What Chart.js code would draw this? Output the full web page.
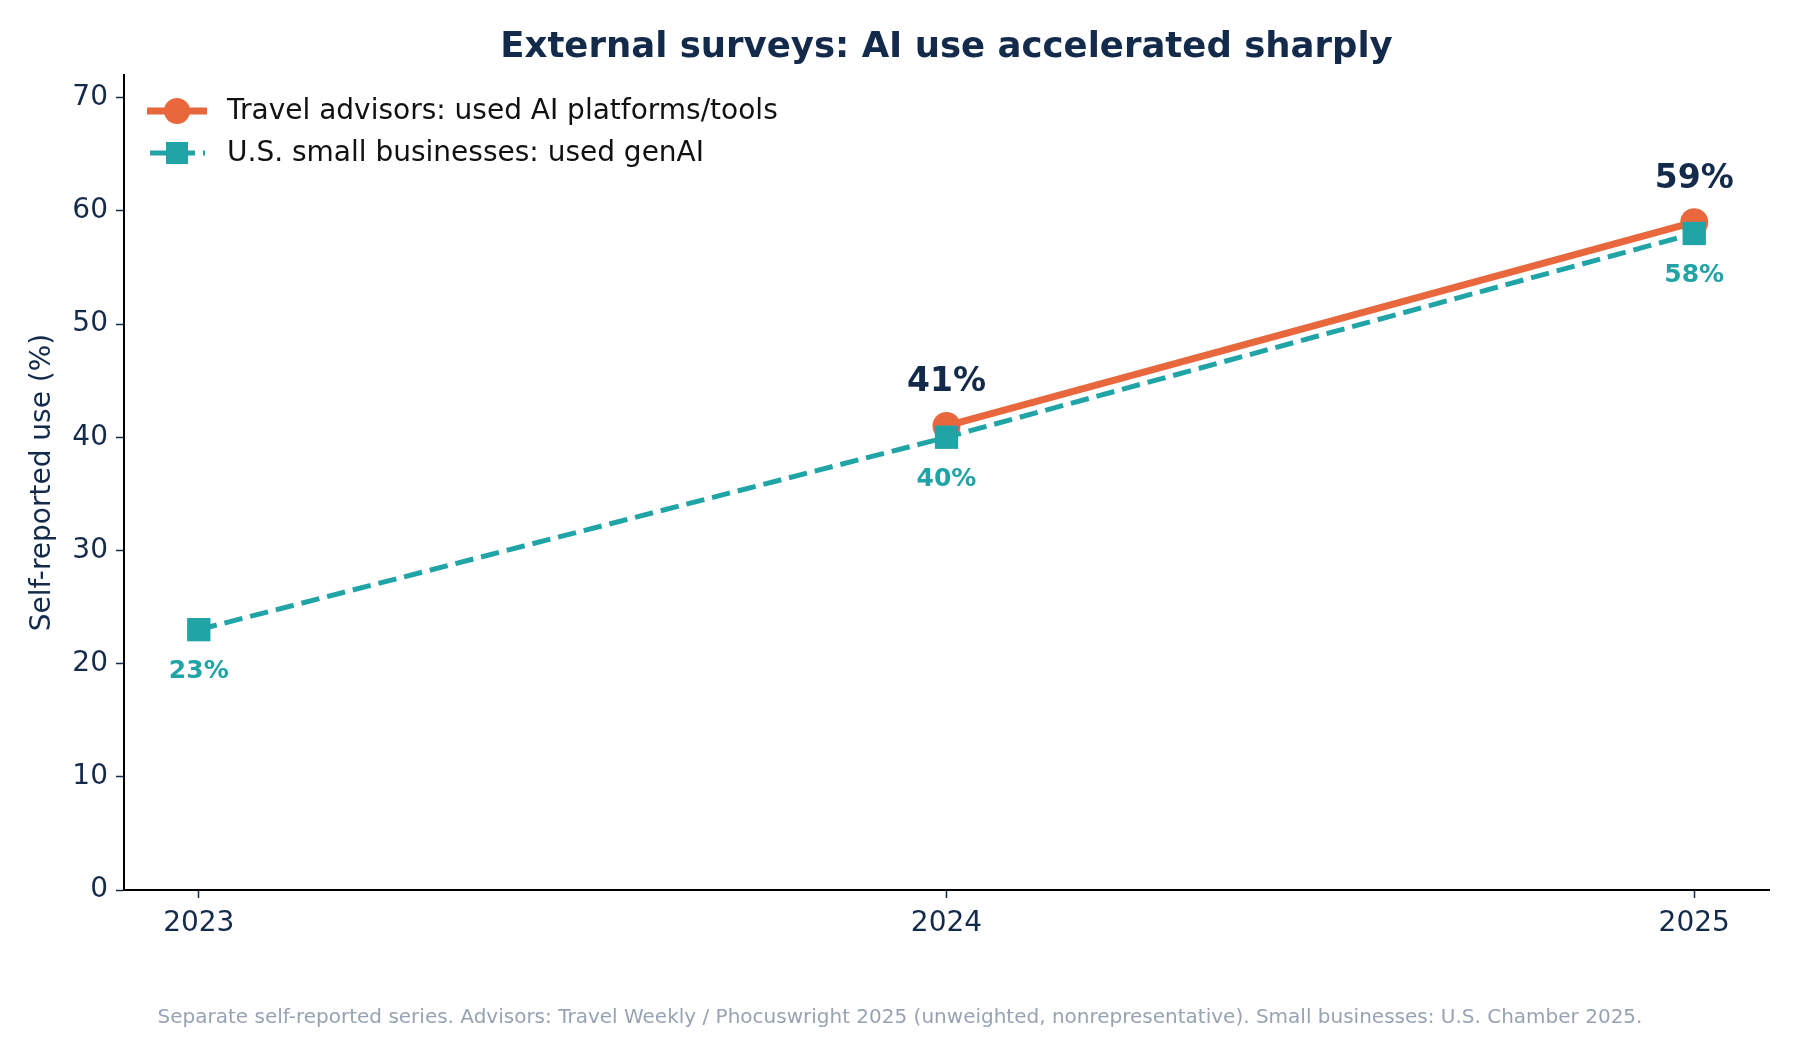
<!DOCTYPE html>
<html>
<head>
<meta charset="utf-8">
<script src="https://cdn.jsdelivr.net/npm/chart.js@4.4.1/dist/chart.umd.min.js"></script>
<style>
html,body{margin:0;padding:0;background:#fff;}
#wrap{width:1800px;height:1040px;}
</style>
</head>
<body>
<div id="wrap"><canvas id="c" width="1800" height="1040"></canvas></div>
<script>
const titleText = "External surveys: AI use accelerated sharply";
const footnoteText = "Separate self-reported series. Advisors: Travel Weekly / Phocuswright 2025 (unweighted, nonrepresentative). Small businesses: U.S. Chamber 2025.";
const yAxisLabel = "Self-reported use (%)";
const years = [2023, 2024, 2025];
const advisorLabel = "Travel advisors: used AI platforms/tools";
const advisorValues = [null, 41, 59];
const smallBizLabel = "U.S. small businesses: used genAI";
const smallBizValues = [23, 40, 58];
const yTicks = [0, 10, 20, 30, 40, 50, 60, 70];

const NAVY = '#132a4a';
const ORANGE = '#e8673c';
const TEAL = '#21a4a6';
const FONT = "'DejaVu Sans', sans-serif";

const toPoints = (vals) => years.map((y, i) => ({x: y, y: vals[i]})).filter(p => p.y !== null);

const decor = {
  id: 'decor',
  afterDraw(chart) {
    const ctx = chart.ctx;
    const ca = chart.chartArea;
    ctx.save();
    // title
    ctx.fillStyle = NAVY;
    ctx.font = "bold 35.5px " + FONT;
    ctx.textAlign = 'center';
    ctx.textBaseline = 'middle';
    ctx.fillText(titleText, (ca.left + ca.right) / 2, 48);
    // footnote
    ctx.fillStyle = '#97a3b3';
    ctx.font = "20px " + FONT;
    ctx.fillText(footnoteText, chart.width / 2, 1018);
    // point labels
    const mA = chart.getDatasetMeta(0);
    mA.data.forEach((el, i) => {
      const v = chart.data.datasets[0].data[i].y;
      ctx.fillStyle = NAVY;
      ctx.font = "bold 33px " + FONT;
      ctx.fillText(v + '%', el.x, el.y - 43);
    });
    const mB = chart.getDatasetMeta(1);
    mB.data.forEach((el, i) => {
      const v = chart.data.datasets[1].data[i].y;
      ctx.fillStyle = TEAL;
      ctx.font = "bold 25px " + FONT;
      ctx.fillText(v + '%', el.x, el.y + 42);
    });
    // legend
    const lx0 = 147, lx1 = 207, lcx = 177, tx = 227;
    const r1 = 111, r2 = 153;
    ctx.lineCap = 'butt';
    ctx.strokeStyle = ORANGE; ctx.lineWidth = 7;
    ctx.beginPath(); ctx.moveTo(lx0, r1); ctx.lineTo(lx1, r1); ctx.stroke();
    ctx.fillStyle = ORANGE;
    ctx.beginPath(); ctx.arc(lcx, r1, 13, 0, Math.PI * 2); ctx.fill();
    ctx.strokeStyle = TEAL; ctx.lineWidth = 5;
    ctx.setLineDash([18.5, 8]);
    ctx.beginPath(); ctx.moveTo(lx0 + 3, r2); ctx.lineTo(lx1 - 2, r2); ctx.stroke();
    ctx.setLineDash([]);
    ctx.fillStyle = TEAL;
    ctx.fillRect(lcx - 11, r2 - 11, 22, 22);
    ctx.fillStyle = '#111';
    ctx.font = "28px " + FONT;
    ctx.textAlign = 'left';
    ctx.fillText(advisorLabel, tx, r1 + 1);
    ctx.fillText(smallBizLabel, tx, r2 + 1);
    ctx.restore();
  }
};

new Chart(document.getElementById('c'), {
  type: 'line',
  data: {
    datasets: [
      {
        label: advisorLabel,
        data: toPoints(advisorValues),
        borderColor: ORANGE,
        backgroundColor: ORANGE,
        borderWidth: 7,
        pointStyle: 'circle',
        pointRadius: 14,
        pointHoverRadius: 14,
        pointBorderWidth: 0,
        pointBackgroundColor: ORANGE,
        order: 1,
        tension: 0
      },
      {
        label: smallBizLabel,
        data: toPoints(smallBizValues),
        borderColor: TEAL,
        backgroundColor: TEAL,
        borderWidth: 5,
        borderDash: [18.5, 8],
        pointStyle: 'rect',
        pointRadius: 16.5,
        pointHoverRadius: 16.5,
        pointBorderWidth: 0,
        pointBackgroundColor: TEAL,
        order: 0,
        tension: 0
      }
    ]
  },
  options: {
    responsive: false,
    animation: false,
    devicePixelRatio: 1,
    layout: { padding: { left: 0, right: 31, top: 75, bottom: 100 } },
    plugins: {
      legend: { display: false },
      title: { display: false },
      tooltip: { enabled: false }
    },
    scales: {
      x: {
        type: 'linear',
        min: 2022.9,
        max: 2025.1,
        afterBuildTicks(scale) { scale.ticks = years.map(v => ({value: v})); },
        afterFit(scale) { scale.height = 50; },
        grid: { display: true, drawOnChartArea: false, drawTicks: true, tickLength: 8, tickColor: NAVY, tickWidth: 1.5 },
        border: { display: true, color: '#000', width: 2 },
        ticks: {
          color: NAVY,
          font: { family: FONT, size: 28 },
          padding: 9,
          callback: (v) => String(v),
          maxRotation: 0,
          autoSkip: false
        }
      },
      y: {
        min: 0,
        max: 72,
        afterBuildTicks(scale) { scale.ticks = yTicks.map(v => ({value: v})); },
        afterFit(scale) { scale.width = 124; },
        grid: { display: true, drawOnChartArea: false, drawTicks: true, tickLength: 8, tickColor: NAVY, tickWidth: 1.5 },
        border: { display: true, color: '#000', width: 2 },
        title: {
          display: true,
          text: yAxisLabel,
          color: NAVY,
          font: { family: FONT, size: 28 },
          padding: { top: 26, bottom: 0 }
        },
        ticks: {
          color: NAVY,
          font: { family: FONT, size: 28 },
          padding: 8
        }
      }
    }
  },
  plugins: [decor]
});
</script>
</body>
</html>
